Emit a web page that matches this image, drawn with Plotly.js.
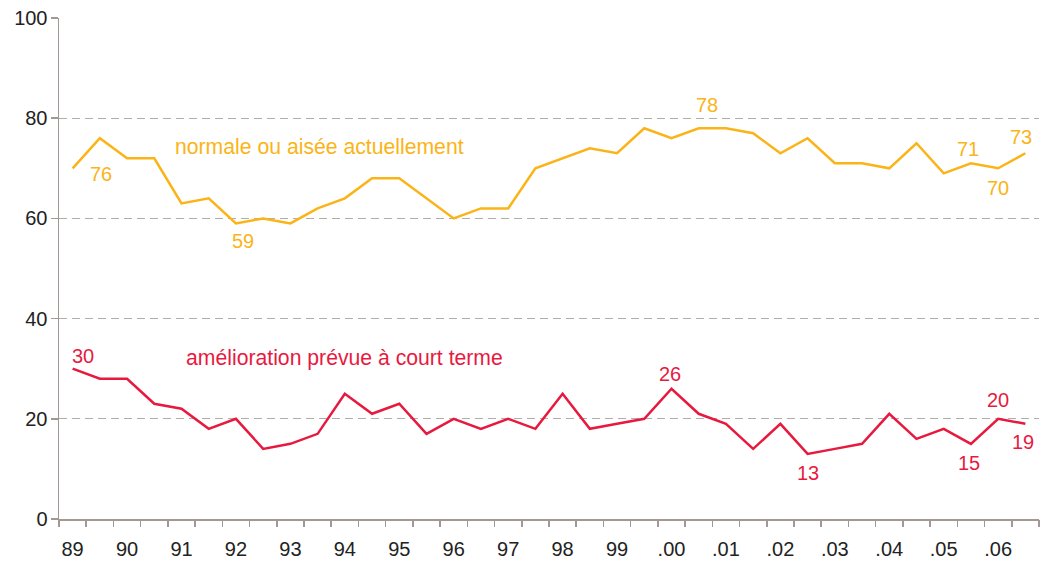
<!DOCTYPE html>
<html>
<head>
<meta charset="utf-8">
<script src="https://cdn.plot.ly/plotly-3.0.1.min.js"></script>
<style>
  html, body { margin: 0; padding: 0; background: #fff; }
  #chart { width: 1051px; height: 562px; }
</style>
</head>
<body>
<div id="chart"></div>
<script>
// Half-yearly observations, 1989 to 2006 (two per year)
const yearLabels = ['89','90','91','92','93','94','95','96','97','98','99','.00','.01','.02','.03','.04','.05','.06'];

const normaleAisee = [70,76,72,72,63,64,59,60,59,62,64,68,68,64,60,62,62,70,72,74,73,78,76,78,78,77,73,76,71,71,70,75,69,71,70,73];
const ameliorationPrevue = [30,28,28,23,22,18,20,14,15,17,25,21,23,17,20,18,20,18,25,18,19,20,26,21,19,14,19,13,14,15,21,16,18,15,20,19];

const seriesNames = ['normale ou aisée actuellement', 'amélioration prévue à court terme'];

// indices of points whose value is written on the chart
const labelledNormale = [1, 6, 23, 33, 34, 35];
const labelledAmelioration = [0, 22, 27, 33, 34, 35];

// ---- styling / placement (not data) ----
const YELLOW = '#FBB417';
const RED = '#E8193F';
const AXIS = '#A39894';
const GRID = '#B3ADAA';
const FONT = 'Liberation Sans, Arial, Helvetica, sans-serif';

const nameOffsetsNormale = {1:[1,36], 6:[7,18], 23:[8,-23], 33:[-3,-14], 34:[0,20], 35:[-4,-16]};
const nameOffsetsAmelioration = {0:[10,-13], 22:[-2,-15], 27:[0,19], 33:[-2,19], 34:[0,-19], 35:[-2,18]};

const n = normaleAisee.length;
const xs = normaleAisee.map((_, i) => i);

const traces = [
  {
    x: xs, y: normaleAisee, type: 'scatter', mode: 'lines', name: seriesNames[0],
    line: {color: YELLOW, width: 2.5}, hoverinfo: 'skip', xaxis: 'x', yaxis: 'y'
  },
  {
    x: xs, y: ameliorationPrevue, type: 'scatter', mode: 'lines', name: seriesNames[1],
    line: {color: RED, width: 2.5}, hoverinfo: 'skip', xaxis: 'x', yaxis: 'y'
  },
  // invisible trace on the tick-mark axis so it is drawn
  {
    x: [-0.5, n - 0.5], y: [0, 0], type: 'scatter', mode: 'none', hoverinfo: 'skip',
    showlegend: false, xaxis: 'x2', yaxis: 'y'
  }
];

const annotations = [];
function addLabels(values, idxs, offsets, color) {
  idxs.forEach(i => {
    annotations.push({
      x: i, y: values[i], xref: 'x', yref: 'y', text: String(values[i]),
      showarrow: false, xshift: offsets[i][0], yshift: -offsets[i][1],
      font: {family: FONT, size: 20, color: color}, xanchor: 'center', yanchor: 'middle'
    });
  });
}
addLabels(normaleAisee, labelledNormale, nameOffsetsNormale, YELLOW);
addLabels(ameliorationPrevue, labelledAmelioration, nameOffsetsAmelioration, RED);

annotations.push({
  x: 0.1163, y: 74.3, xref: 'paper', yref: 'y', text: seriesNames[0], showarrow: false,
  xanchor: 'left', yanchor: 'middle', font: {family: FONT, size: 21.2, color: YELLOW}
});
annotations.push({
  x: 0.1276, y: 32.2, xref: 'paper', yref: 'y', text: seriesNames[1], showarrow: false,
  xanchor: 'left', yanchor: 'middle', font: {family: FONT, size: 21.2, color: RED}
});

const labelPositions = yearLabels.map((_, k) => 2 * k);
const tickMarkPositions = [];
for (let k = 0; k <= n; k++) tickMarkPositions.push(k - 0.5);

const layout = {
  width: 1051, height: 562,
  margin: {l: 59, r: 12, t: 18, b: 43, pad: 0},
  paper_bgcolor: '#fff', plot_bgcolor: '#fff',
  showlegend: false,
  font: {family: FONT, size: 20, color: '#222'},
  xaxis: {
    range: [-0.5, n - 0.5], tickmode: 'array', tickvals: labelPositions, ticktext: yearLabels,
    ticks: 'outside', ticklen: 7, tickcolor: 'rgba(0,0,0,0)', showgrid: false, zeroline: false,
    showline: true, linecolor: AXIS, linewidth: 1.5,
    tickfont: {family: FONT, size: 20, color: '#222'}, ticklabelstandoff: 4, fixedrange: true
  },
  xaxis2: {
    overlaying: 'x', matches: 'x', range: [-0.5, n - 0.5], tickmode: 'array', tickvals: tickMarkPositions,
    ticks: 'outside', ticklen: 7, tickwidth: 1.5, tickcolor: AXIS, showticklabels: false,
    showgrid: false, zeroline: false, showline: false, side: 'bottom', fixedrange: true
  },
  yaxis: {
    range: [0, 100], tickmode: 'array', tickvals: [0,20,40,60,80,100],
    ticks: 'outside', ticklen: 7, tickwidth: 1.5, tickcolor: AXIS,
    showline: true, linecolor: AXIS, linewidth: 1.5,
    showgrid: true, gridcolor: GRID, gridwidth: 1, griddash: '8px,5px',
    zeroline: false, tickfont: {family: FONT, size: 20, color: '#222'},
    ticklabelstandoff: -1, fixedrange: true
  },
  annotations: annotations
};

Plotly.newPlot('chart', traces, layout, {staticPlot: true, displayModeBar: false});
</script>
</body>
</html>
